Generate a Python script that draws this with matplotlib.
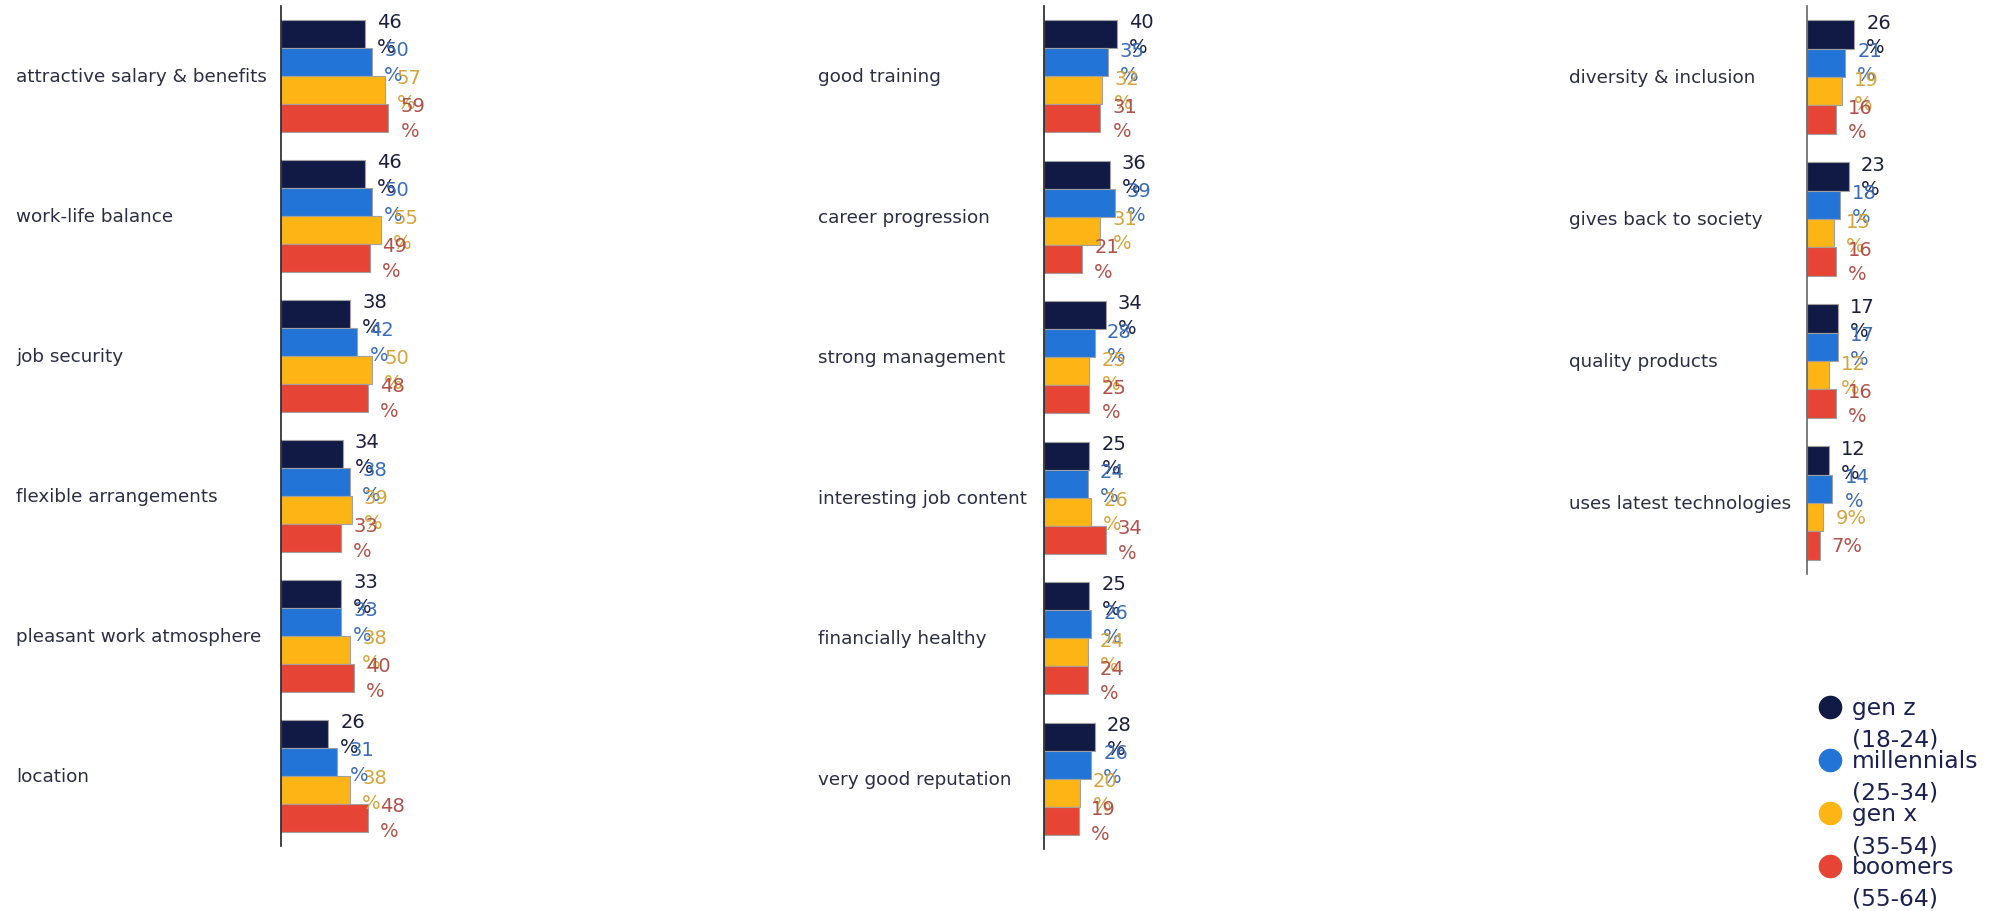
import matplotlib
matplotlib.use("Agg")
import matplotlib.pyplot as plt
from matplotlib.lines import Line2D
from matplotlib.transforms import blended_transform_factory

# data
series = ["gen z\n(18-24)", "millennials\n(25-34)", "gen x\n(35-54)", "boomers\n(55-64)"]

cats_1 = ["attractive salary & benefits", "work-life balance", "job security",
          "flexible arrangements", "pleasant work atmosphere", "location"]
genz_1 = [46, 46, 38, 34, 33, 26]
mill_1 = [50, 50, 42, 38, 33, 31]
genx_1 = [57, 55, 50, 39, 38, 38]
boom_1 = [59, 49, 48, 33, 40, 48]

cats_2 = ["good training", "career progression", "strong management",
          "interesting job content", "financially healthy", "very good reputation"]
genz_2 = [40, 36, 34, 25, 25, 28]
mill_2 = [35, 39, 28, 24, 26, 26]
genx_2 = [32, 31, 25, 26, 24, 20]
boom_2 = [31, 21, 25, 34, 24, 19]

cats_3 = ["diversity & inclusion", "gives back to society", "quality products",
          "uses latest technologies"]
genz_3 = [26, 23, 17, 12]
mill_3 = [21, 18, 17, 14]
genx_3 = [19, 15, 12, 9]
boom_3 = [16, 16, 16, 7]

bar_colors = ["#111a44", "#2274d6", "#fdb515", "#e64535"]
text_colors = ["#1b1e3c", "#3b6cb7", "#d4a53e", "#b0524a"]

W, H = 1990, 912
fig = plt.figure(figsize=(W / 100, H / 100), dpi=100)

# (axis x px, top px, height px, label x px, spine colour)
panels = [
    (cats_1, [genz_1, mill_1, genx_1, boom_1], 281, 7, 840, 16, "#222222"),
    (cats_2, [genz_2, mill_2, genx_2, boom_2], 1044, 7, 843, 818, "#222222"),
    (cats_3, [genz_3, mill_3, genx_3, boom_3], 1807, 7, 568, 1569, "#666666"),
]

offsets = [-0.3, -0.1, 0.1, 0.3]

for cats, vals, x0, top, h, lab_x, spc in panels:
    ax = fig.add_axes([x0 / W, 1 - (top + h) / H, 182 / W, h / H])
    n = len(cats)
    for k in range(4):
        ys = [i + 0.5 + offsets[k] for i in range(n)]
        ax.barh(ys, vals[k], height=0.2, color=bar_colors[k],
                edgecolor="#a0a0a0", linewidth=0.8)
        for y, v in zip(ys, vals[k]):
            txt = f"{v}%" if v < 10 else f"{v}\n%"
            ax.annotate(txt, xy=(v, y), xytext=(12, 0), textcoords="offset pixels",
                        ha="left", va="center", fontsize=14, linespacing=1.35,
                        color=text_colors[k], annotation_clip=False)
    ax.set_xlim(0, 100)
    ax.set_ylim(n, 0)
    for s in ["top", "right", "bottom"]:
        ax.spines[s].set_visible(False)
    ax.spines["left"].set_color(spc)
    ax.spines["left"].set_linewidth(1.2)
    ax.set_xticks([])
    ax.set_yticks([])
    tr = blended_transform_factory(fig.transFigure, ax.transData)
    for i, c in enumerate(cats):
        ax.text(lab_x / W, i + 0.5, c, transform=tr, ha="left", va="center",
                fontsize=13.2, color="#2b2d42")

# legend, drawn by hand so the two-line labels overlap like the reference
leg_y = [708, 761, 814, 867]
for k in range(4):
    fy = 1 - leg_y[k] / H
    fig.add_artist(Line2D([1830 / W], [fy], marker="o", markersize=16,
                          color=bar_colors[k], linestyle="none",
                          transform=fig.transFigure))
    fig.text(1852 / W, fy + 11 / H, series[k], ha="left", va="top",
             fontsize=16.8, color="#1a2050", linespacing=1.5)

fig.savefig("out.png", dpi=100, facecolor="white")
